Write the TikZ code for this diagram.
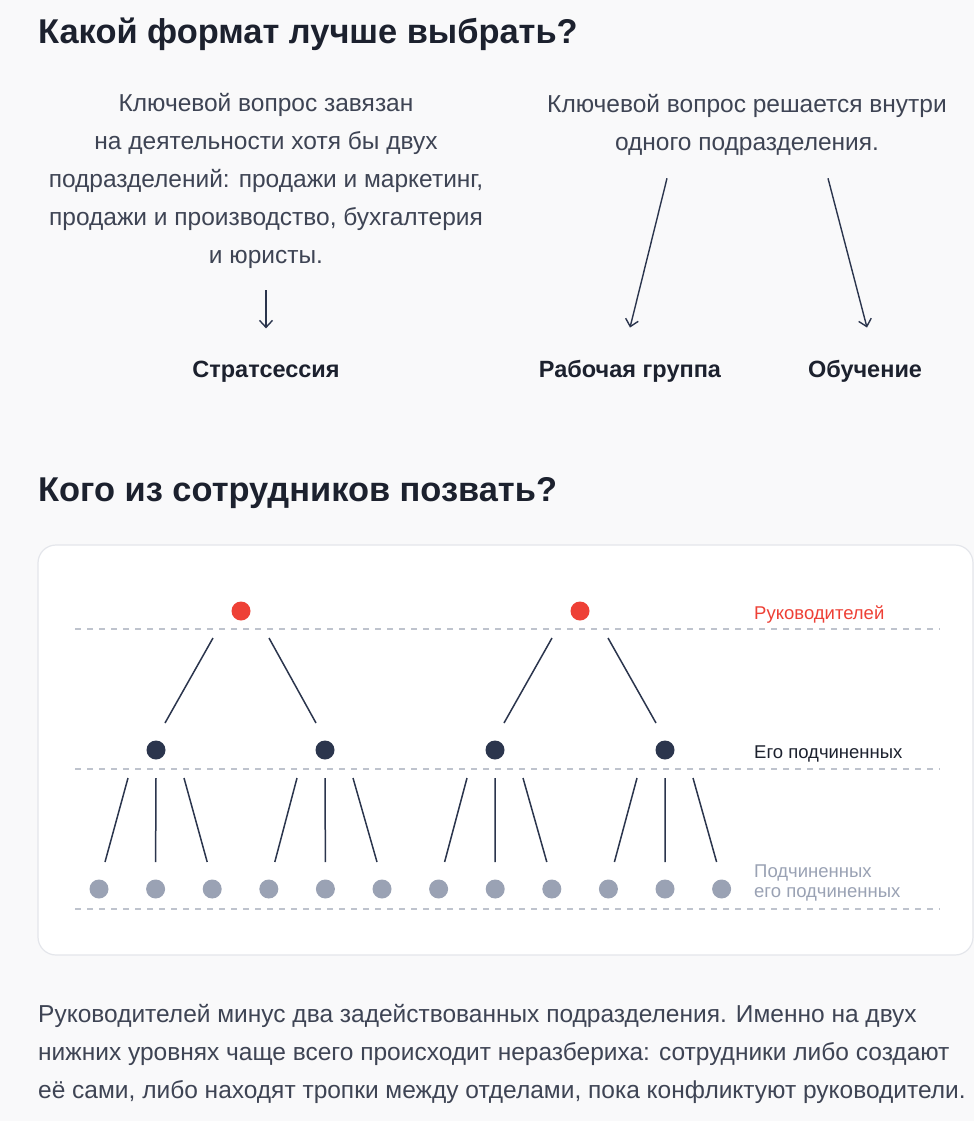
\documentclass[tikz,border=0pt]{standalone}
\usepackage{fontspec}
\setmainfont{Liberation Sans}
\usepackage{xcolor}
\definecolor{pagebg}{RGB}{249,249,250}
\definecolor{ink}{RGB}{28,33,46}
\definecolor{bodyink}{RGB}{62,68,84}
\definecolor{bossred}{RGB}{238,64,54}
\definecolor{navy}{RGB}{43,53,77}
\definecolor{subgray}{RGB}{154,162,180}
\definecolor{guide}{RGB}{190,195,205}
\definecolor{frame}{RGB}{228,230,235}
\usetikzlibrary{arrows.meta,calc}

\begin{document}
\begin{tikzpicture}[x=1pt,y=-1pt,
  head/.style={anchor=base west,inner sep=0pt,font=\fontsize{34.4}{40}\selectfont\bfseries,text=ink},
  para/.style={anchor=base,inner sep=0pt,align=center,font=\fontsize{24.5}{37.8}\selectfont,text=bodyink},
  fmt/.style={anchor=base,inner sep=0pt,font=\fontsize{23.5}{28}\selectfont\bfseries,text=ink},
  arr/.style={-{Straight Barb[length=7pt,width=13pt]},line width=1.4pt,navy},
  dot/.style={circle,inner sep=0pt,minimum size=19pt},
  link/.style={line width=1.5pt,navy},
  guideline/.style={guide,line width=1.3pt,dash pattern=on 6pt off 6pt},
  lvl/.style={anchor=base west,inner sep=0pt,align=left,font=\fontsize{18.5}{20}\selectfont}
]
  \useasboundingbox[fill=pagebg] (0,0) rectangle (974,1121);

  % Format choice
  \node[head] (t1) at (38,44) {Какой формат лучше выбрать?};
  \node[para] (q1) at (266,263) {Ключевой вопрос завязан\\на деятельности хотя бы двух\\подразделений: продажи и маркетинг,\\продажи и производство, бухгалтерия\\и юристы.};
  \node[para] (q2) at (747,150) {Ключевой вопрос решается внутри\\одного подразделения.};
  \node[fmt] (s1) at (266,377) {Стратсессия};
  \node[fmt] (rg) at (630,377) {Рабочая группа};
  \node[fmt] (ob) at (865,377) {Обучение};
  \draw[arr] ([shift={(0,22)}]q1.south) -- ([shift={(0,-32)}]s1.north);
  \draw[arr] ([shift={(-80,23)}]q2.south) -- ([shift={(0,-32)}]rg.north);
  \draw[arr] ([shift={(81,23)}]q2.south) -- ([shift={(2,-32)}]ob.north);

  % Who to invite
  \node[head] (t2) at (38,501) {Кого из сотрудников позвать?};
  \draw[frame,fill=white,line width=1.2pt,rounded corners=18pt] (38,545) rectangle (973,955);
  \foreach \y in {629,769,909}
    \draw[guideline] (75,\y) -- (940,\y);

  \node[dot,fill=bossred] (r1) at (241,611) {};
  \node[dot,fill=bossred] (r2) at (580,611) {};
  \foreach \x [count=\i] in {156,325,495,665}
    \node[dot,fill=navy] (m\i) at (\x,750) {};
  \foreach \i in {1,...,12}
    \node[dot,fill=subgray] (g\i) at ({99+56.6*(\i-1)},889) {};

  \foreach \r/\a/\b in {r1/m1/m2,r2/m3/m4}{
    \draw[link] ([shift={(-28,27)}]\r.center) -- ([shift={(9,-27)}]\a.center);
    \draw[link] ([shift={(28,27)}]\r.center) -- ([shift={(-9,-27)}]\b.center);
  }
  \foreach \p in {1,...,4}{
    \pgfmathtruncatemacro{\ga}{3*\p-2}
    \pgfmathtruncatemacro{\gb}{3*\p-1}
    \pgfmathtruncatemacro{\gc}{3*\p}
    \draw[link] ([shift={(-28,28)}]m\p.center) -- ([shift={(6,-27)}]g\ga.center);
    \draw[link] ([shift={(0,28)}]m\p.center) -- ([shift={(0,-27)}]g\gb.center);
    \draw[link] ([shift={(28,28)}]m\p.center) -- ([shift={(-5,-27)}]g\gc.center);
  }

  \node[lvl,text=bossred] (l1) at (754,619) {Руководителей};
  \node[lvl,text=ink] (l2) at (754,758) {Его подчиненных};
  \node[lvl,text=subgray] (l3) at (754,897) {Подчиненных\\его подчиненных};

  \node[para,anchor=base west,align=left] (p1) at (38,1098) {Руководителей минус два задействованных подразделения. Именно на двух\\нижних уровнях чаще всего происходит неразбериха: сотрудники либо создают\\её сами, либо находят тропки между отделами, пока конфликтуют руководители.};
\end{tikzpicture}
\end{document}
